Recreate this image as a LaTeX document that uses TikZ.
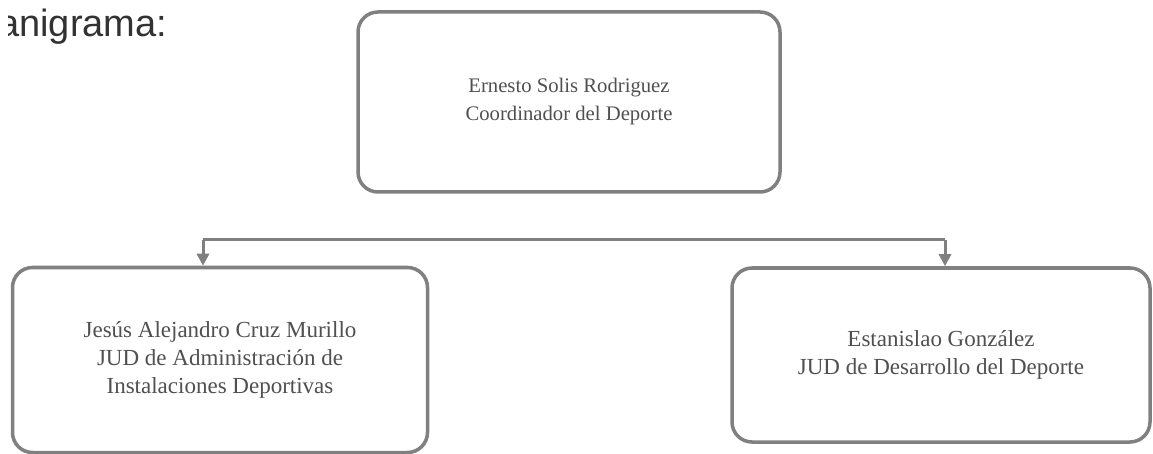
\documentclass[tikz,border=0pt]{standalone}
\usepackage{fontspec}
\setmainfont{Liberation Serif}
\newfontfamily\titlefont{Liberation Sans}
\usetikzlibrary{arrows.meta}
\definecolor{boxgray}{RGB}{128,128,128}
\definecolor{txtgray}{RGB}{80,80,80}
\definecolor{titlegray}{RGB}{50,50,50}
\tikzset{
  orgbox/.style={draw=boxgray, line width=3.5pt, rounded corners=20pt, fill=white,
    text=txtgray, align=center, inner sep=0pt,
    font=\fontsize{23}{28}\selectfont},
  arr/.style={draw=boxgray, line width=3pt, -{Triangle[length=12pt,width=12pt]}}
}
\begin{document}
\begin{tikzpicture}[x=1pt,y=-1pt]
\useasboundingbox (0,0) rectangle (1153,454);
\begin{scope}
\clip (8,0) rectangle (300,60);
\node[anchor=base west, text=titlegray, font=\titlefont\fontsize{38}{40}\selectfont, inner sep=0pt] (title) at (-2,37) {anigrama:};
\end{scope}
\node[orgbox, font=\fontsize{20.7}{28}\selectfont, minimum width=422pt, minimum height=180pt] (top) at (569,102)
  {Ernesto Solis Rodriguez\\Coordinador del Deporte};
\node[orgbox, minimum width=415pt, minimum height=185pt] (left) at (220,360)
  {Jesús Alejandro Cruz Murillo\\JUD de Administración de\\Instalaciones Deportivas};
\node[orgbox, minimum width=418pt, minimum height=174pt] (right) at (941,355)
  {Estanislao González\\JUD de Desarrollo del Deporte};
\coordinate (busL) at (203,240);
\coordinate (busR) at (945,240);
\draw[draw=boxgray, line width=3pt] (busL) -- (busR);
\draw[arr] (busL) -- (busL |- left.north);
\draw[arr] (busR) -- (busR |- right.north);
\end{tikzpicture}
\end{document}
